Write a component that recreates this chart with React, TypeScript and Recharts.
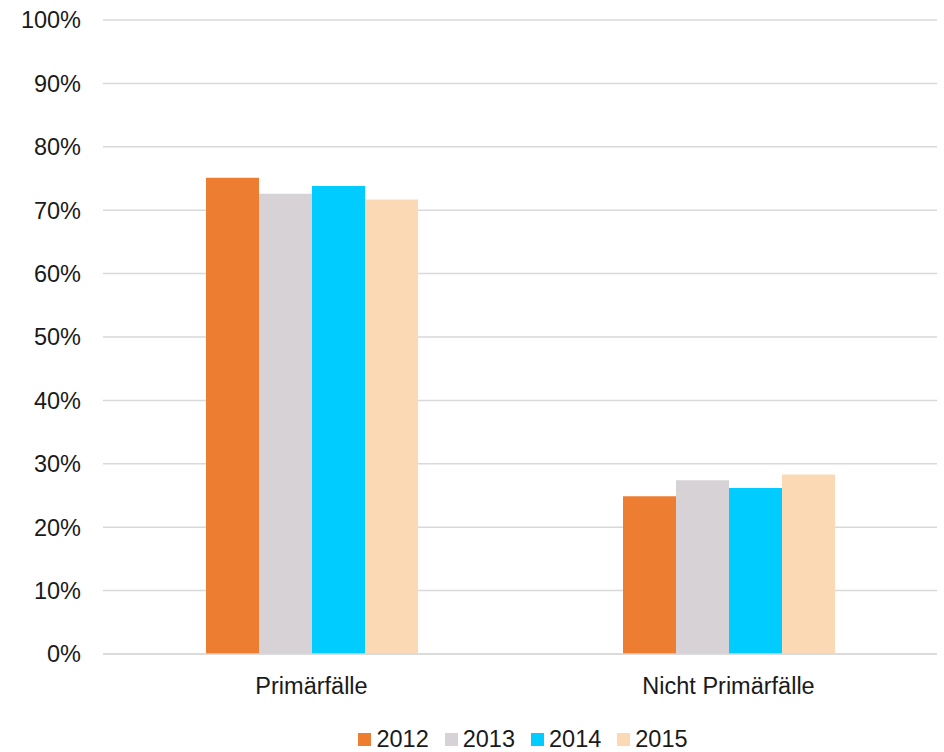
import { BarChart, Bar, XAxis, YAxis, CartesianGrid, Legend } from "recharts";

const categories = ["Primärfälle", "Nicht Primärfälle"];
const years = ["2012", "2013", "2014", "2015"];
const values2012 = [75.1, 24.9];
const values2013 = [72.6, 27.4];
const values2014 = [73.8, 26.2];
const values2015 = [71.7, 28.3];
const yTicks = [0, 10, 20, 30, 40, 50, 60, 70, 80, 90, 100];

const YEAR_COLORS: Record<string, string> = {
  "2012": "#ED7D31",
  "2013": "#D6D2D5",
  "2014": "#00CCFF",
  "2015": "#FBD9B4",
};

const seriesValues = [values2012, values2013, values2014, values2015];

const data = categories.map((name, i) => {
  const row: Record<string, string | number> = { name };
  years.forEach((y, j) => {
    row[y] = seriesValues[j][i];
  });
  return row;
});

const FONT = "'Liberation Sans', Arial, sans-serif";

function YearLegend({ payload }: { payload?: Array<{ value: string; color: string }> }) {
  if (!payload) return null;
  return (
    <div style={{ display: "flex", justifyContent: "center", gap: 16, fontFamily: FONT, fontSize: 23.5, color: "#1a1a1a" }}>
      {payload.map((p) => (
        <div key={p.value} style={{ display: "flex", alignItems: "center" }}>
          <span style={{ display: "inline-block", width: 13, height: 13, background: p.color, marginRight: 5 }} />
          <span>{p.value}</span>
        </div>
      ))}
    </div>
  );
}

export default function App() {
  return (
    <div style={{ position: "absolute", left: 0, top: 0, background: "#fff" }}>
      <BarChart
        width={944}
        height={752}
        data={data}
        margin={{ top: 20, right: 7, bottom: 38, left: 0 }}
        barCategoryGap={103}
        barGap={0}
      >
        <CartesianGrid horizontal vertical={false} stroke="#d9d9d9" strokeWidth={1.5} />
        <XAxis
          dataKey="name"
          height={60}
          tickLine={false}
          tickSize={0}
          tickMargin={23}
          axisLine={{ stroke: "#d9d9d9", strokeWidth: 1.5 }}
          tick={{ fontSize: 23.5, fill: "#1a1a1a", fontFamily: FONT }}
        />
        <YAxis
          width={103}
          domain={[0, 100]}
          ticks={yTicks}
          interval={0}
          tickFormatter={(v: number) => `${v}%`}
          axisLine={false}
          tickLine={false}
          tickSize={0}
          tickMargin={22}
          tick={{ fontSize: 23.5, fill: "#1a1a1a", fontFamily: FONT }}
        />
        <Legend
          verticalAlign="middle"
          content={<YearLegend />}
          wrapperStyle={{ top: 726, left: 102, width: 842 }}
        />
        {years.map((y) => (
          <Bar key={y} dataKey={y} fill={YEAR_COLORS[y]} isAnimationActive={false} />
        ))}
      </BarChart>
    </div>
  );
}
